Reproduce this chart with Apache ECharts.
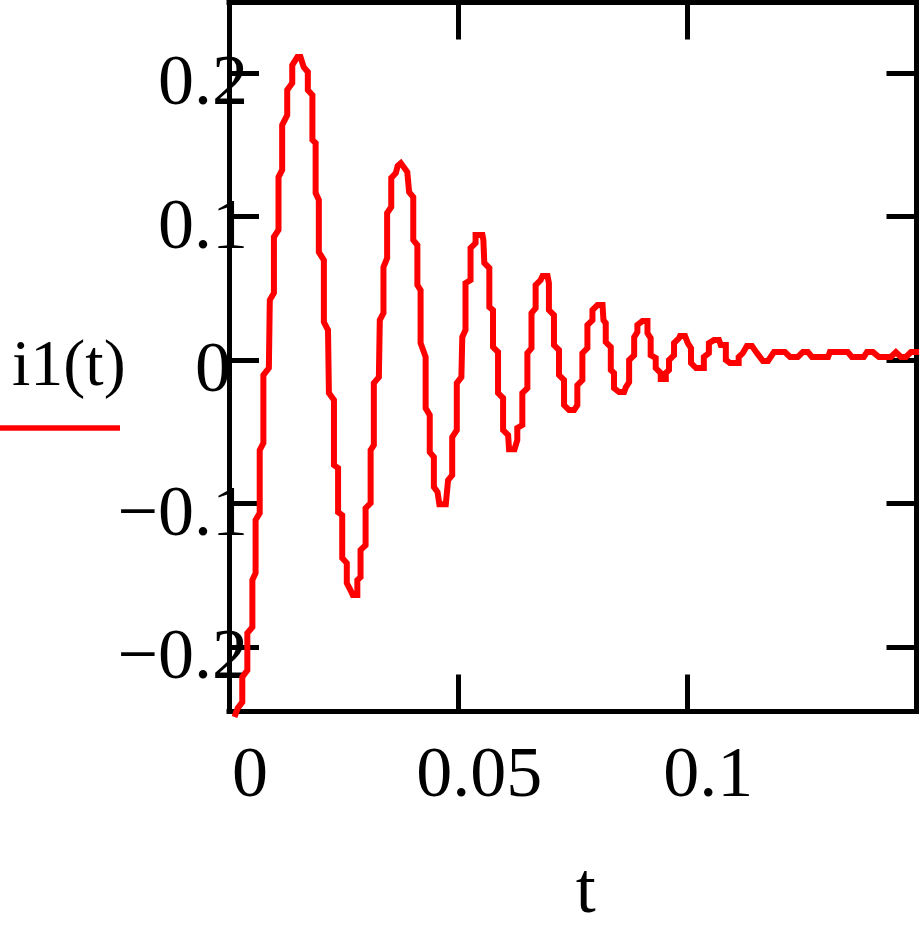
<!DOCTYPE html>
<html><head><meta charset="utf-8">
<script src="https://cdn.jsdelivr.net/npm/echarts@6/dist/echarts.min.js"></script>
<style>html,body{margin:0;padding:0;background:#fff}#c{width:919px;height:936px}</style>
</head><body><div id="c"></div>
<script>
// time samples t (s)
const tValues = [
0.0012,0.0019,0.0029,0.0029,0.0040,0.0040,0.0051,0.0051,0.0058,0.0058,
0.0067,0.0067,0.0075,0.0075,0.0087,0.0089,0.0098,0.0098,0.0108,0.0108,
0.0116,0.0116,0.0127,0.0127,0.0138,0.0138,0.0149,0.0156,0.0163,0.0172,
0.0172,0.0182,0.0182,0.0189,0.0189,0.0196,0.0196,0.0207,0.0207,0.0216,
0.0218,0.0229,0.0229,0.0238,0.0238,0.0247,0.0247,0.0257,0.0257,0.0265,
0.0270,0.0280,0.0280,0.0287,0.0287,0.0298,0.0298,0.0309,0.0309,0.0316,
0.0316,0.0327,0.0329,0.0337,0.0337,0.0345,0.0345,0.0354,0.0354,0.0364,
0.0368,0.0375,0.0389,0.0393,0.0402,0.0402,0.0411,0.0411,0.0418,0.0418,
0.0429,0.0429,0.0438,0.0438,0.0447,0.0447,0.0455,0.0459,0.0473,0.0478,
0.0487,0.0487,0.0497,0.0497,0.0507,0.0509,0.0516,0.0516,0.0527,0.0527,
0.0538,0.0538,0.0553,0.0555,0.0557,0.0568,0.0568,0.0576,0.0576,0.0587,
0.0587,0.0598,0.0598,0.0609,0.0611,0.0623,0.0629,0.0629,0.0640,0.0640,
0.0651,0.0651,0.0660,0.0660,0.0669,0.0669,0.0680,0.0684,0.0695,0.0698,
0.0698,0.0709,0.0709,0.0720,0.0720,0.0731,0.0731,0.0742,0.0753,0.0760,
0.0760,0.0771,0.0771,0.0782,0.0782,0.0793,0.0793,0.0804,0.0815,0.0817,
0.0822,0.0822,0.0833,0.0833,0.0840,0.0840,0.0851,0.0862,0.0866,0.0873,
0.0873,0.0884,0.0884,0.0891,0.0891,0.0902,0.0913,0.0913,0.0920,0.0920,
0.0931,0.0931,0.0942,0.0942,0.0953,0.0953,0.0960,0.0960,0.0971,0.0971,
0.0982,0.0984,0.0995,0.1001,0.1008,0.1008,0.1019,0.1036,0.1036,0.1047,
0.1047,0.1058,0.1069,0.1073,0.1084,0.1084,0.1093,0.1112,0.1112,0.1121,
0.1130,0.1141,0.1152,0.1165,0.1176,0.1189,0.1213,0.1224,0.1241,0.1252,
0.1263,0.1272,0.1307,0.1311,0.1350,0.1359,0.1385,0.1392,0.1405,0.1418,
0.1444,0.1455,0.1466,0.1477,0.1488,0.1506
];
// current i1(t)
const i1Values = [
-0.2489,-0.2427,-0.2385,-0.2210,-0.2162,-0.1904,-0.1862,-0.1534,-0.1486,-0.1116,
-0.1068,-0.0629,-0.0580,-0.0106,-0.0057,0.0417,0.0466,0.0856,0.0905,0.1274,
0.1323,0.1636,0.1706,0.1880,0.1929,0.2054,0.2110,0.2110,0.2040,0.2006,
0.1880,0.1845,0.1532,0.1511,0.1162,0.1114,0.0751,0.0695,0.0263,0.0208,
-0.0231,-0.0280,-0.0733,-0.0754,-0.1061,-0.1082,-0.1381,-0.1416,-0.1555,-0.1604,
-0.1639,-0.1639,-0.1534,-0.1514,-0.1325,-0.1291,-0.1033,-0.0998,-0.0629,-0.0594,
-0.0162,-0.0120,0.0277,0.0326,0.0647,0.0709,0.1023,0.1065,0.1267,0.1302,
0.1351,0.1371,0.1309,0.1169,0.1134,0.0835,0.0800,0.0521,0.0486,0.0117,
0.0020,-0.0336,-0.0385,-0.0643,-0.0677,-0.0886,-0.0921,-0.1006,-0.1006,-0.0838,
-0.0803,-0.0538,-0.0489,-0.0162,-0.0120,0.0159,0.0208,0.0535,0.0556,0.0779,
0.0814,0.0870,0.0870,0.0835,0.0675,0.0640,0.0368,0.0347,0.0089,0.0054,
-0.0231,-0.0266,-0.0489,-0.0524,-0.0622,-0.0622,-0.0559,-0.0475,-0.0454,-0.0231,
-0.0197,0.0047,0.0082,0.0326,0.0361,0.0521,0.0556,0.0584,0.0584,0.0535,
0.0347,0.0312,0.0103,0.0068,-0.0106,-0.0141,-0.0315,-0.0350,-0.0350,-0.0315,
-0.0176,-0.0141,0.0047,0.0082,0.0243,0.0277,0.0347,0.0382,0.0382,0.0277,
0.0256,0.0124,0.0089,-0.0071,-0.0092,-0.0197,-0.0224,-0.0224,-0.0190,-0.0155,
-0.0001,0.0033,0.0159,0.0194,0.0243,0.0270,0.0270,0.0187,0.0152,0.0033,
0.0013,-0.0057,-0.0092,-0.0134,-0.0134,-0.0092,-0.0071,-0.0001,0.0033,0.0117,
0.0152,0.0166,0.0166,0.0117,0.0082,-0.0022,-0.0057,-0.0057,0.0020,0.0047,
0.0117,0.0138,0.0138,0.0103,0.0103,-0.0001,-0.0022,-0.0022,0.0020,0.0047,
0.0096,0.0096,0.0047,-0.0008,-0.0008,0.0054,0.0054,0.0020,0.0020,0.0054,
0.0054,0.0020,0.0020,0.0054,0.0054,0.0020,0.0020,0.0054,0.0054,0.0020,
0.0020,0.0054,0.0020,0.0020,0.0054,0.0054
];
const xTickValues = [0.05, 0.1];
const xLabelValues = [0, 0.05, 0.1];
const yTickValues = [-0.2, -0.1, 0, 0.1, 0.2];
const seriesName = 'i1(t)';
const xName = 't';

const FONT = '"Liberation Serif", "Times New Roman", serif';
function fmt(v) {
  const s = String(+Math.abs(v).toFixed(3));
  return v < 0 ? '\u2212' + s : s;
}
const chart = echarts.init(document.getElementById('c'), null, {renderer: 'canvas'});
const frameLine = {color: '#000', width: 5, cap: 'square'};
const tickLine = {color: '#000', width: 5};
chart.setOption({
  animation: false,
  backgroundColor: '#fff',
  grid: {left: 229, right: 2.5, top: 2.5, bottom: 224.5, containLabel: false},
  xAxis: [{
    type: 'value', position: 'bottom', min: 0, max: 0.15,
    axisLine: {show: true, onZero: false, lineStyle: frameLine},
    axisTick: {show: true, inside: true, length: 37, customValues: xTickValues, lineStyle: tickLine},
    axisLabel: {show: true, customValues: xLabelValues, margin: 30, fontFamily: FONT, fontSize: 72,
      color: '#000', padding: [0, 0, 0, 42], formatter: v => fmt(v)},
    splitLine: {show: false},
    name: xName, nameLocation: 'middle', nameGap: 146,
    nameTextStyle: {fontFamily: FONT, fontSize: 72, color: '#000', padding: [0, 0, 0, 26]}
  }, {
    type: 'value', position: 'top', min: 0, max: 0.15,
    axisLine: {show: true, onZero: false, lineStyle: frameLine},
    axisTick: {show: true, inside: true, length: 37, customValues: xTickValues, lineStyle: tickLine},
    axisLabel: {show: false}, splitLine: {show: false}
  }],
  yAxis: [{
    type: 'value', position: 'left', min: -0.245, max: 0.249,
    axisLine: {show: true, onZero: false, lineStyle: frameLine},
    axisTick: {show: true, inside: true, length: 30, customValues: yTickValues, lineStyle: tickLine},
    axisLabel: {show: true, customValues: yTickValues, margin: -19,
      formatter: v => Math.abs(v) < 1e-9 ? '{z|0}' : '{n|' + fmt(v) + '}',
      rich: {
        n: {fontFamily: FONT, fontSize: 72, color: '#000', padding: [25, 0, 0, 0]},
        z: {fontFamily: FONT, fontSize: 72, color: '#000', padding: [25, 17, 0, 0]}
      }},
    splitLine: {show: false}
  }, {
    type: 'value', position: 'right', min: -0.245, max: 0.249,
    axisLine: {show: true, onZero: false, lineStyle: frameLine},
    axisTick: {show: true, inside: true, length: 30, customValues: yTickValues, lineStyle: tickLine},
    axisLabel: {show: false}, splitLine: {show: false}
  }],
  series: [{
    type: 'line', name: seriesName, xAxisIndex: 0, yAxisIndex: 0,
    data: tValues.map((t, k) => [t, i1Values[k]]),
    symbol: 'none', showSymbol: false, clip: false, silent: true,
    lineStyle: {color: '#ff0000', width: 6, join: 'miter'}
  }],
  graphic: [{
    type: 'text', x: 12, y: 368, silent: true,
    style: {text: seriesName, fontFamily: FONT, fontSize: 66, fill: '#000', align: 'left', verticalAlign: 'middle'}
  }, {
    type: 'line', silent: true,
    shape: {x1: 0, y1: 428, x2: 120, y2: 428},
    style: {stroke: '#ff0000', lineWidth: 5.5}
  }]
});
</script></body></html>
